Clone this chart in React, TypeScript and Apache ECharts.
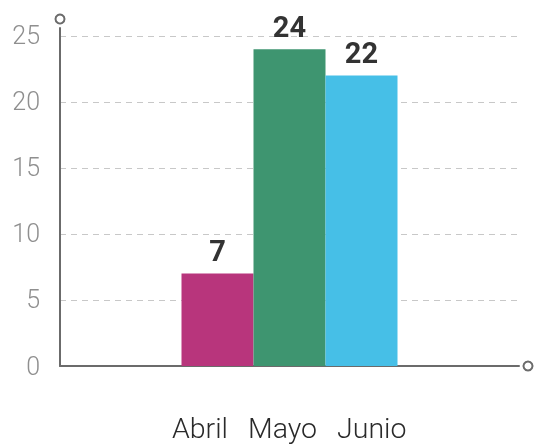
import React, { useEffect, useRef } from "react";
import * as echarts from "echarts";

const months = ["Abril", "Mayo", "Junio"];
const values = [7, 24, 22];
const colors = ["#B8357C", "#3E9570", "#46BFE7"];
const yTicks = [0, 5, 10, 15, 20, 25];

export default function App() {
  const ref = useRef<HTMLDivElement>(null);
  useEffect(() => {
    if (!ref.current) return;
    const chart = echarts.init(ref.current, undefined, { renderer: "svg" });
    const font = "Roboto, 'Noto Sans', sans-serif";
    chart.setOption({
      animation: false,
      textStyle: { fontFamily: font },
      grid: { left: 60, right: 16, top: 28, bottom: 82 },
      legend: {
        data: months,
        left: 167,
        top: 414,
        padding: 0,
        icon: "rect",
        itemWidth: 0,
        itemHeight: 0,
        itemGap: 15,
        textStyle: {
          fontSize: 28.5,
          lineHeight: 28,
          fontWeight: 300,
          color: "#2a2a2a",
          fontFamily: font,
        },
        selectedMode: false,
      },
      xAxis: {
        type: "category",
        data: [""],
        axisLine: {
          lineStyle: { color: "#6b6b6b", width: 2 },
          symbol: ["none", "emptyCircle"],
          symbolSize: [9, 9],
          symbolOffset: [0, 9],
        },
        axisTick: { show: false },
        axisLabel: { show: false },
      },
      yAxis: {
        type: "value",
        min: yTicks[0],
        max: 25.6,
        interval: 5,
        axisLine: {
          show: true,
          lineStyle: { color: "#6b6b6b", width: 2 },
          symbol: ["none", "emptyCircle"],
          symbolSize: [9, 9],
          symbolOffset: [0, 9],
        },
        axisTick: { show: false },
        axisLabel: {
          showMaxLabel: false,
          margin: 20,
          fontSize: 25,
          color: "#8f8f8f",
          fontWeight: 300,
          fontFamily: font,
        },
        splitLine: {
          showMaxLine: false,
          showMinLine: false,
          lineStyle: { color: "#c8c8c8", type: [6, 5], width: 1 },
        },
      },
      series: months.map((m, i) => ({
        name: m,
        type: "bar",
        data: [values[i]],
        barWidth: 72,
        barGap: "0%",
        itemStyle: { color: colors[i] },
        label: {
          show: true,
          position: "top",
          distance: 8,
          fontSize: 29,
          fontWeight: "bold",
          color: "#333",
          fontFamily: font,
        },
      })),
    });
    return () => chart.dispose();
  }, []);
  return (
    <div
      ref={ref}
      style={{ position: "fixed", left: 0, top: 0, width: 535, height: 448 }}
    />
  );
}
